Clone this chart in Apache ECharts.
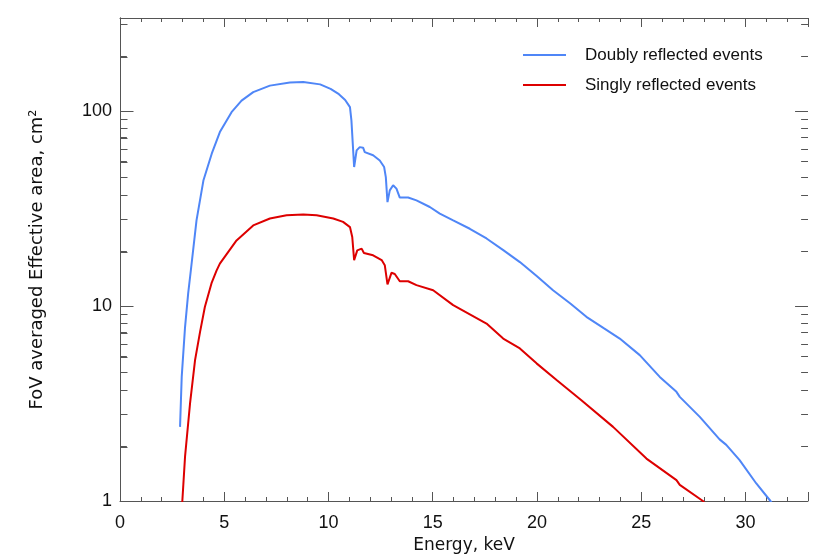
<!DOCTYPE html>
<html>
<head>
<meta charset="utf-8">
<script src="https://cdn.jsdelivr.net/npm/echarts@6/dist/echarts.min.js"></script>
<style>
html,body{margin:0;padding:0;background:#fff;}
#chartBox{width:830px;height:554px;}
</style>
</head>
<body>
<div id="chartBox"></div>
<script>
// doubly reflected events
var energyBlue=[2.88,2.96,3.12,3.27,3.40,3.5,3.67,4.0,4.4,4.79,5.35,5.83,6.39,7.19,8.15,8.79,9.6,10.1,10.5,10.8,11.03,11.1,11.23,11.35,11.5,11.66,11.74,12.14,12.46,12.67,12.75,12.83,12.94,13.1,13.26,13.42,13.82,14.22,14.86,15.34,15.98,16.78,17.58,18.4,19.18,20.0,20.77,21.6,22.37,23.2,23.97,24.93,25.89,26.69,26.85,27.81,28.76,29.08,29.72,30.52,31.2,31.4];
var areaBlue=[2.4,4.33,7.8,11.6,15.3,19.0,27.5,44,60.4,78,98.7,113,125,135,140,141,137,130,122,114,104.7,89.5,51.6,62.8,65.3,64.9,61.6,59.3,55.8,51.6,45.8,34.1,39.2,41.6,40,36,36,34.8,32.2,29.8,27.5,24.9,22.2,19.3,16.8,14.2,12.05,10.3,8.8,7.7,6.81,5.6,4.33,3.63,3.42,2.7,2.07,1.94,1.62,1.23,1.0,0.93];
// singly reflected events
var energyRed=[2.93,2.99,3.12,3.36,3.6,3.84,4.07,4.4,4.63,4.79,5.59,6.39,7.19,7.99,8.79,9.43,10.23,10.7,11.03,11.14,11.23,11.38,11.59,11.7,12.14,12.55,12.7,12.83,13.02,13.18,13.42,13.82,14.22,15.02,15.98,17.58,18.38,19.18,19.98,20.94,22.13,23.65,25.25,26.69,26.85,27.96,28.2];
var areaRed=[0.85,1.0,1.69,3.17,5.28,7.37,9.89,13.2,15.2,16.5,21.7,25.9,28.1,29.2,29.5,29.2,28.1,27.0,25.4,22.6,17.2,19.3,19.7,18.7,18.2,17.2,16.2,12.9,14.8,14.6,13.4,13.4,12.8,12.05,10.1,8.13,6.81,6.06,5.08,4.17,3.29,2.40,1.65,1.28,1.21,1.0,0.93];

var seriesNames=['Doubly reflected events','Singly reflected events'];
var yMajorTicks=[1,10,100];
var yMinorTicks=[1.9,2.8,3.7,4.6,5.5,6.4,7.3,8.2,9.1,19,28,37,46,55,64,73,82,91,190,280];

var xMin=0,xMax=33;
var axisColor='#555';
var textFont='Liberation Sans';

function toPairs(xs,ys){
    var arr=[];
    for(var i=0;i<xs.length;i++){
        arr.push([xs[i],ys[i]]);
    };
    return arr;
};

// y ticks drawn inside the box on both sides, as short segments (tick length in keV)
function tickSegments(vals,len){
    var arr=[];
    for(var i=0;i<vals.length;i++){
        arr.push([{coord:[xMin,vals[i]]},{coord:[xMin+len,vals[i]]}]);
        arr.push([{coord:[xMax-len,vals[i]]},{coord:[xMax,vals[i]]}]);
    };
    return arr;
};

// left side ticks again on their own layer
function tickData(vals,len){
    return vals.map(function(v){return [xMax/2,v,len];});
};
function renderLeftTick(params,api){
    var v=Number(api.value(1));
    var len=Number(api.value(2));
    var pt=api.coord([xMax/2,v]);
    var cs=params.coordSys;
    var y=Math.round(pt[1])+0.5;
    var xl=Math.round(cs.x)+0.5;
    return {
        type:'line',
        shape:{x1:xl,y1:y,x2:xl+len,y2:y},
        style:{stroke:axisColor,lineWidth:1}
    };
};

var myChart=echarts.init(document.getElementById('chartBox'));

var xAxisBase={
    type:'value',
    min:xMin,
    max:xMax,
    interval:5,
    axisLine:{show:true,lineStyle:{color:axisColor,width:1}},
    axisTick:{show:true,inside:true,length:9,lineStyle:{color:axisColor}},
    minorTick:{show:true,splitNumber:5,length:4,lineStyle:{color:axisColor}},
    splitLine:{show:false}
};
var yAxisBase={
    type:'log',
    logBase:10,
    min:1,
    max:300,
    axisLine:{show:true,lineStyle:{color:axisColor,width:1}},
    axisTick:{show:false},
    splitLine:{show:false}
};

var option={
    backgroundColor:'#fff',
    animation:false,
    grid:{left:120,right:22,top:18,bottom:53,containLabel:false,outerBoundsMode:'none'},
    legend:{
        orient:'vertical',
        left:523,
        top:45,
        padding:0,
        icon:'rect',
        itemWidth:43,
        itemHeight:2,
        itemGap:10,
        data:seriesNames,
        textStyle:{fontFamily:textFont,fontSize:17,color:'#111',lineHeight:20,padding:[0,0,0,14]}
    },
    xAxis:[
        echarts.util.merge({
            position:'bottom',
            name:'Energy, keV',
            nameLocation:'middle',
            nameGap:36,
            nameTextStyle:{fontFamily:'DejaVu Sans',fontSize:17,color:'#111'},
            axisLabel:{fontFamily:textFont,fontSize:18,color:'#111',margin:13,showMaxLabel:false}
        },xAxisBase,true),
        echarts.util.merge({
            position:'top',
            axisLabel:{show:false}
        },xAxisBase,true)
    ],
    yAxis:[
        echarts.util.merge({
            position:'left',
            name:'FoV averaged Effective area, cm\u00b2',
            nameLocation:'middle',
            nameGap:74,
            nameTextStyle:{fontFamily:'DejaVu Sans',fontSize:18,color:'#111'},
            axisLabel:{fontFamily:textFont,fontSize:18,color:'#111',margin:8,showMaxLabel:false}
        },yAxisBase,true),
        echarts.util.merge({
            position:'right',
            axisLabel:{show:false}
        },yAxisBase,true)
    ],
    series:[
        {
            name:seriesNames[0],
            type:'line',
            data:toPairs(energyBlue,areaBlue),
            showSymbol:false,
            smooth:false,
            color:'#4f86f7',
            lineStyle:{width:2,color:'#4f86f7'},
            clip:true,
            markLine:{
                silent:true,
                symbol:['none','none'],
                label:{show:false},
                lineStyle:{color:axisColor,width:1,type:'solid'},
                data:tickSegments(yMajorTicks,0.62).concat(tickSegments(yMinorTicks,0.33))
            }
        },
        {
            name:seriesNames[1],
            type:'line',
            data:toPairs(energyRed,areaRed),
            showSymbol:false,
            smooth:false,
            color:'#dd0000',
            lineStyle:{width:2,color:'#dd0000'},
            clip:true
        },
        {
            name:'leftTicks',
            type:'custom',
            silent:true,
            zlevel:1,
            renderItem:renderLeftTick,
            data:tickData(yMajorTicks,13).concat(tickData(yMinorTicks,7)),
            clip:false
        }
    ]
};

myChart.setOption(option);
</script>
</body>
</html>
